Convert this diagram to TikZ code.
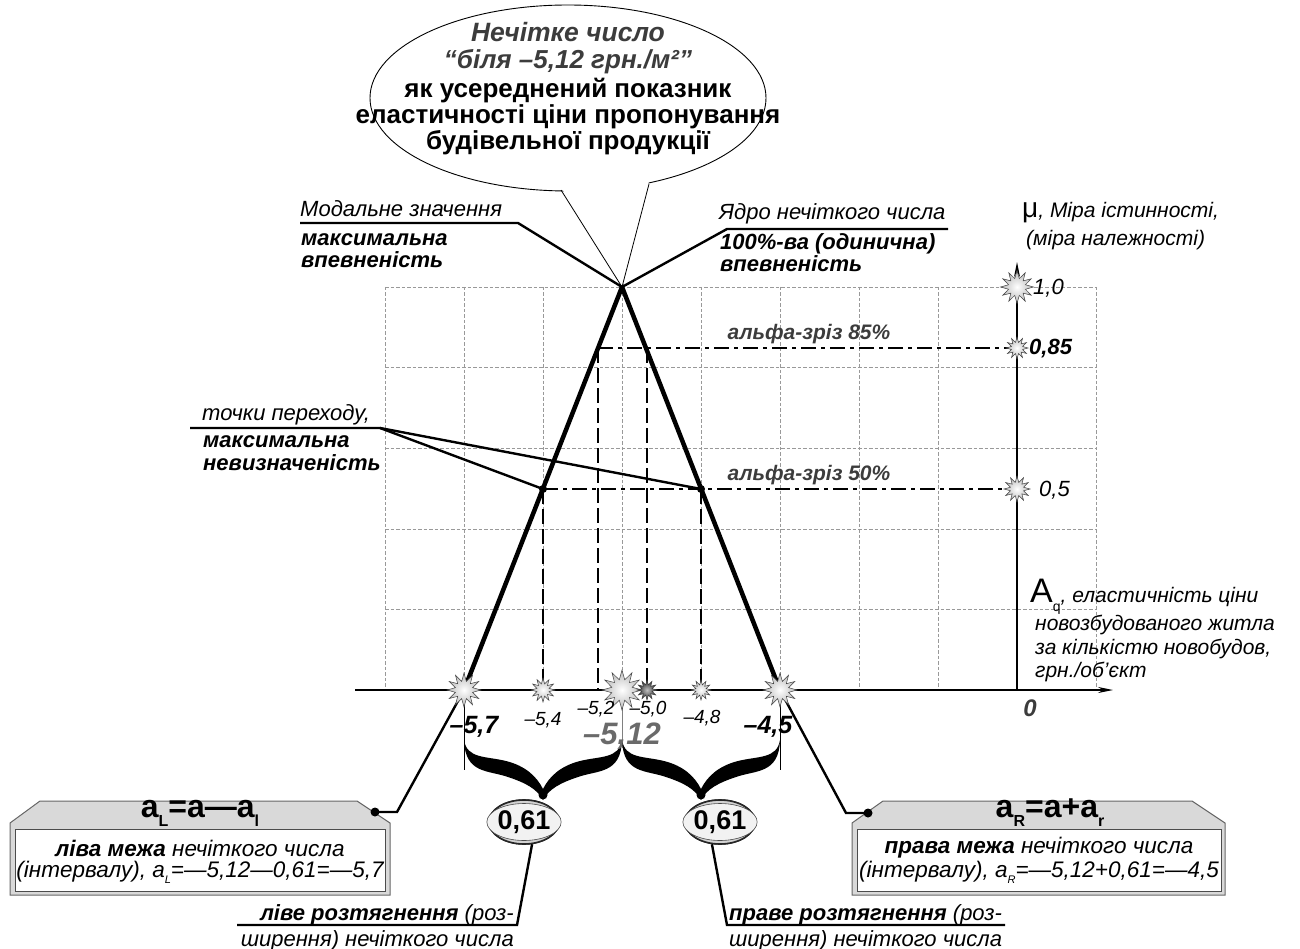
\documentclass[tikz,border=0pt]{standalone}
\usepackage{fontspec}
\setmainfont{Liberation Sans}
\usetikzlibrary{shapes.geometric,arrows.meta}
\newcommand\fs[2]{\fontsize{#1}{#2}\selectfont}
\newcommand\lsub[2]{\raisebox{-0.28em}{\fontsize{#1}{#1}\selectfont #2}}
\definecolor{dgray}{HTML}{3C3C3C}
\definecolor{mgray}{HTML}{6A6A6A}
\definecolor{boxgray}{HTML}{D9D9D9}
\begin{document}
\begin{tikzpicture}[x=1pt,y=-1pt,
  gridl/.style={draw=gray!80, dash pattern=on 3.5pt off 2pt, line width=0.6pt},
  tri/.style={line width=4.5pt, line join=miter},
  ldash/.style={line width=2.8pt, dash pattern=on 15pt off 5pt},
  ddot/.style={line width=2.8pt, dash pattern=on 15pt off 5pt on 4pt off 5pt},
  lead/.style={line width=2.4pt},
  thinl/.style={line width=0.8pt},
  axisl/.style={line width=1.3pt, -{Stealth[length=15pt,width=6pt]}},
  burst/.style={star, star points=12, star point ratio=1.9, inner sep=0pt, draw=black!75, line width=0.5pt, inner color=white, outer color=gray!55},
  lab/.style={inner sep=0pt, font=\fs{22}{24}\itshape},
  labb/.style={inner sep=0pt, font=\fs{22}{24}\bfseries\itshape},
  boxt/.style={inner sep=0pt, font=\fs{22.5}{24}\itshape},
  ctext/.style={inner sep=0pt, anchor=base, font=\fs{26}{27}\bfseries},
  nums/.style={inner sep=0pt, font=\fs{19}{20}\itshape},
  numb/.style={inner sep=0pt, font=\fs{25}{26}\bfseries\itshape},
  gbox/.style={fill=boxgray, draw=black!60, line width=1pt},
  wbox/.style={fill=white, draw=black!70, line width=0.8pt},
  oval/.style={ellipse, inner sep=0pt, minimum width=70pt, minimum height=44pt, draw=black!85, line width=1.6pt, fill=gray!35},
  ovalin/.style={ellipse, inner sep=0pt, minimum width=63pt, minimum height=37pt, draw=black!70, line width=0.6pt, fill=gray!10, font=\fs{27}{28}\bfseries},
]
\useasboundingbox (0,0) rectangle (1300,949);

% ---------- grid ----------
\foreach \gx in {385,464,543,622,701,780,859,938,1096} \draw[gridl] (\gx,287) -- (\gx,690);
\foreach \gy in {287,367.6,448.2,528.8,609.4} \draw[gridl] (385,\gy) -- (1096,\gy);

% ---------- coordinates ----------
\coordinate (apex) at (622,287);
\coordinate (pL50) at (543,489);
\coordinate (pR50) at (701,489);
\coordinate (pL85) at (598,348);
\coordinate (pR85) at (647,348);
\coordinate (ax85) at (1017,348);
\coordinate (ax50) at (1017,489);
\coordinate (ax10) at (1017,287);
\coordinate (xL) at (464,690);
\coordinate (x54) at (543,690);
\coordinate (x52) at (598,690);
\coordinate (xC) at (622,690);
\coordinate (x50) at (647,690);
\coordinate (x48) at (701,690);
\coordinate (xR) at (780,690);
\coordinate (origin) at (1017,690);
\coordinate (xstart) at (355,690);
\coordinate (xend) at (1113,690);
\coordinate (yend) at (1017,262);

% ---------- axes ----------
\draw[axisl] (xstart) -- (xend);
\draw[axisl] (origin) -- (yend);

% ---------- alpha cuts ----------
\draw[ddot] (pL85) -- (ax85);
\draw[ddot] (pL50) -- (ax50);
\draw[ldash] (pL85) -- (x52);
\draw[ldash] (pR85) -- (x50);
\draw[ldash] (pL50) -- (x54);
\draw[ldash] (pR50) -- (x48);

% ---------- triangle ----------
\draw[tri] (xL) -- (apex) -- (xR);

% ---------- lines below axis ----------
\draw[thinl] (xL) -- (464,770);
\draw[thinl] (xR) -- (780,770);
\draw[thinl, gray] (xC) -- (622,748);

% ---------- braces ----------
\foreach \sh in {0,158}{
\begin{scope}[shift={(\sh,0)}]
\fill (464,740) .. controls (465,774) and (488,770) .. (508,777)
  .. controls (526,783) and (537,789) .. (543,800)
  .. controls (549,789) and (560,783) .. (578,777)
  .. controls (598,770) and (621,774) .. (622,740)
  .. controls (619,759) and (600,756) .. (580,761)
  .. controls (560,766) and (549,777) .. (543,789)
  .. controls (537,777) and (526,766) .. (506,761)
  .. controls (486,756) and (467,759) .. (464,740) -- cycle;
\end{scope}}
\coordinate (tipL) at (543,795);
\coordinate (tipR) at (701,795);

% ---------- 0,61 ovals ----------
\node[oval] (eL) at (524,822) {};
\node[oval] (eR) at (720,822) {};
\draw[lead] (tipL) -- (tipL |- eL.north);
\draw[lead] (tipR) -- (tipR |- eR.north);
\node[oval] at (eL) {};
\node[oval] at (eR) {};
\node[ovalin] (eLt) at (eL) {0,61};
\node[ovalin] (eRt) at (eR) {0,61};
\fill (tipL) circle (4.5pt);
\fill (tipR) circle (4.5pt);

% bottom stretch labels
\coordinate (uL) at (517,925);
\coordinate (uR) at (727,925);
\draw[lead] (eL.-70) -- (uL) -- (237,925);
\draw[lead] (eR.-110) -- (uR) -- (1005,925);
\node[lab, anchor=base east] (stL1) at (514,920) {{\bfseries ліве розтягнення} (роз-};
\node[lab, anchor=base east] (stL2) at (514,946) {ширення) нечіткого числа};
\node[lab, anchor=base west] (stR1) at (729,920) {{\bfseries праве розтягнення} (роз-};
\node[lab, anchor=base west] (stR2) at (729,946) {ширення) нечіткого числа};

% ---------- left box ----------
\draw[gbox] (10,823) -- (40,801) -- (357,801) -- (390,823) -- (390,895) -- (10,895) -- cycle;
\draw[wbox] (15,829) rectangle (385,891);
\node[inner sep=0pt, font=\fs{32}{32}\bfseries] (tL) at (200,813) {a\lsub{16}{L}=a—a\lsub{16}{l}};
\node[boxt] (bL1) at (200,848) {{\bfseries ліва межа} нечіткого числа};
\node[boxt] (bL2) at (200,872) {(інтервалу), a\lsub{11}{L}=—5,12—0,61=—5,7};
\coordinate (dotL) at (375,812);
\draw[lead] (dotL) -- (397,812) -- (xL);
\fill (dotL) circle (4.5pt);

% ---------- right box ----------
\draw[gbox] (852,823) -- (883,801) -- (1192,801) -- (1225,823) -- (1225,895) -- (852,895) -- cycle;
\draw[wbox] (857,829) rectangle (1221,891);
\node[inner sep=0pt, font=\fs{32}{32}\bfseries] (tR) at (1050,813) {a\lsub{16}{R}=a+a\lsub{16}{r}};
\node[boxt] (bR1) at (1039,848) {{\bfseries права межа} нечіткого числа};
\node[boxt] (bR2) at (1039,872) {(інтервалу), a\lsub{11}{R}=—5,12+0,61=—4,5};
\coordinate (dotR) at (868,813);
\draw[lead] (dotR) -- (846,813) -- (xR);
\fill (dotR) circle (4.5pt);

% ---------- callout ----------
\node[ellipse, draw, line width=0.9pt, fill=white, minimum width=396pt, minimum height=186pt, inner sep=0pt] (callout) at (568,98) {};
\fill[white] (561,187) -- (apex) -- (649,181) -- cycle;
\draw[thinl] (561,190) -- (apex) -- (649,184);
\node[ctext, font=\fs{26.5}{27}\bfseries\itshape, text=dgray] (c1) at (568,42) {Нечітке число};
\node[ctext, font=\fs{26}{27}\bfseries\itshape, text=dgray] (c2) at (568,69) {“біля –5,12 грн./м²”};
\node[ctext] (c3) at (568,98) {як усереднений показник};
\node[ctext] (c4) at (568,124) {еластичності ціни пропонування};
\node[ctext] (c5) at (568,150) {будівельної продукції};

% ---------- modal / core labels ----------
\node[lab, anchor=base west] (mod1) at (300,217) {Модальне значення};
\node[labb, anchor=base west] (mod2) at (301,246) {максимальна};
\node[labb, anchor=base west] (mod3) at (301,268) {впевненість};
\draw[lead] (300,223) -- (518,223) -- (apex);
\node[lab, anchor=base west] (core1) at (719,220) {Ядро нечіткого числа};
\node[labb, anchor=base west] (core2) at (720,250) {100\%-ва (одинична)};
\node[labb, anchor=base west] (core3) at (720,272) {впевненість};
\draw[lead] (apex) -- (727,229) -- (948,229);

% ---------- transition points ----------
\node[lab, anchor=base west] (tp1) at (202,420) {точки переходу,};
\node[labb, anchor=base west] (tp2) at (203,447) {максимальна};
\node[labb, anchor=base west] (tp3) at (203,470) {невизначеність};
\draw[lead] (190,428) -- (380,428) -- (pL50);
\draw[lead] (380,428) -- (pR50);
\fill (pL50) circle (4pt);
\fill (pR50) circle (4pt);

% ---------- alpha labels ----------
\node[inner sep=0pt, font=\fs{21}{22}\bfseries\itshape, text=dgray] (al85) at (809,334) {альфа-зріз 85\%};
\node[inner sep=0pt, font=\fs{21}{22}\bfseries\itshape, text=dgray] (al50) at (809,475) {альфа-зріз 50\%};

% ---------- axis labels ----------
\node[inner sep=0pt, anchor=base west] (mu1) at (1022,218) {\fs{28}{28}μ\fs{21}{22}\itshape, Міра істинності,};
\node[lab, anchor=base west] (mu2) at (1026,246) {\fs{21}{22}(міра належності)};
\node[inner sep=0pt, anchor=base west] (aq1) at (1030,602) {\fs{34}{34}A\lsub{14}{q}\fs{21}{22}\itshape, еластичність ціни};
\node[lab, anchor=base west, font=\fs{21}{22}\itshape] (aq2) at (1035,630) {новозбудованого житла};
\node[lab, anchor=base west, font=\fs{21}{22}\itshape] (aq3) at (1035,654) {за кількістю новобудов,};
\node[lab, anchor=base west, font=\fs{21}{22}\itshape] (aq4) at (1035,677) {грн./об’єкт};
\node[labb, text=dgray, font=\fs{24}{24}\bfseries\itshape] (zero) at (1030,708) {0};

% ---------- stars ----------
\node[burst, minimum size=34pt] (sL) at (xL) {};
\node[burst, minimum size=24pt] (s54) at (x54) {};
\node[burst, minimum size=40pt] (sC) at (xC) {};
\node[burst, minimum size=20pt, inner color=gray!50, outer color=black!85] (s50) at (x50) {};
\node[burst, minimum size=20pt] (s48) at (x48) {};
\node[burst, minimum size=34pt] (sR) at (xR) {};
\node[burst, minimum size=33pt] (s10) at (ax10) {};
\node[burst, minimum size=22pt] (s85) at (ax85) {};
\node[burst, minimum size=26pt] (s05) at (ax50) {};

\node[lab, anchor=west] (v10) at (1033,288) {1,0};
\node[labb, anchor=west] (v85) at (1029,349) {0,85};
\node[lab, anchor=west] (v05) at (1039,490) {0,5};

% x labels
\node[numb] (n57) at (474,727) {–5,7};
\node[nums] (n54) at (543,720) {–5,4};
\node[nums] (n52) at (596,709) {–5,2};
\node[nums] (n50) at (648,709) {–5,0};
\node[nums] (n48) at (702,718) {–4,8};
\node[inner sep=0pt, font=\fs{31}{32}\bfseries\itshape, text=mgray] (n512) at (622,736) {–5,12};
\node[numb] (n45) at (768,727) {–4,5};
\end{tikzpicture}
\end{document}
